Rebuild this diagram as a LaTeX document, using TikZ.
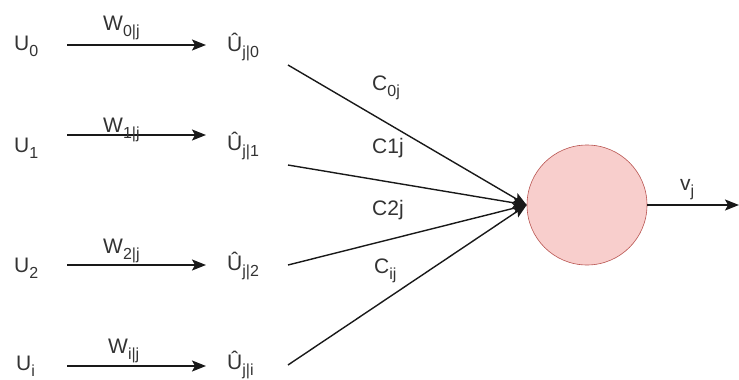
\documentclass[tikz,border=0pt]{standalone}
\usepackage{fontspec}
\setmainfont{Liberation Sans}
\usetikzlibrary{arrows.meta}
\newcommand\sbx[1]{\raisebox{-6pt}{\fontsize{16}{16}\selectfont #1}}
\begin{document}
\begin{tikzpicture}[x=1pt,y=-1pt,
  lbl/.style={font=\fontsize{21}{24}\selectfont, inner sep=0pt, text=black!80, anchor=base west},
  conn/.style={line width=1.4pt, draw=black!90, -{Stealth[length=14pt,width=11pt,inset=3pt]}}]
\useasboundingbox (0,0) rectangle (739,380);
% inputs
\node[lbl] (u0) at (14,50) {U\sbx{0}};
\node[lbl] (u1) at (14,152) {U\sbx{1}};
\node[lbl] (u2) at (14,272) {U\sbx{2}};
\node[lbl] (ui) at (16,370) {U\sbx{i}};
% predictions
\node[lbl] (h0) at (227,51) {Û\sbx{j|0}};
\node[lbl] (h1) at (227,150) {Û\sbx{j|1}};
\node[lbl] (h2) at (227,270) {Û\sbx{j|2}};
\node[lbl] (hi) at (227,369) {Û\sbx{j|i}};
% weight arrows
\coordinate (a0) at (67,45);  \coordinate (b0) at (206,45);
\coordinate (a1) at (67,135); \coordinate (b1) at (206,135);
\coordinate (a2) at (67,265); \coordinate (b2) at (206,265);
\coordinate (a3) at (67,366); \coordinate (b3) at (206,366);
\draw[conn] (a0) -- (b0);
\draw[conn] (a1) -- (b1);
\draw[conn] (a2) -- (b2);
\draw[conn] (a3) -- (b3);
\node[lbl] (w0) at (103,30) {W\sbx{0|j}};
\node[lbl] (w1) at (103,132) {W\sbx{1|j}};
\node[lbl] (w2) at (103,253) {W\sbx{2|j}};
\node[lbl] (wi) at (108,353) {W\sbx{i|j}};
% neuron
\node[circle, minimum size=120pt, inner sep=0pt, fill={rgb,255:red,248;green,206;blue,204}, draw={rgb,255:red,184;green,84;blue,80}, line width=0.6pt] (c) at (587,205) {};
% coupling lines
\coordinate (s0) at (288,65);
\coordinate (s1) at (288,165);
\coordinate (s2) at (288,265);
\coordinate (s3) at (288,365);
\draw[conn] (s0) -- (c.west);
\draw[conn] (s1) -- (c.west);
\draw[conn] (s2) -- (c.west);
\draw[conn] (s3) -- (c.west);
\node[lbl] (c0) at (372,90) {C\sbx{0j}};
\node[lbl] (c1) at (372,153) {C1j};
\node[lbl] (c2) at (372,215) {C2j};
\node[lbl] (ci) at (374,273) {C\sbx{ij}};
% output
\coordinate (o) at (739,205);
\draw[conn] (c.east) -- (o);
\node[lbl] (v) at (680,190) {v\sbx{j}};
\end{tikzpicture}
\end{document}
